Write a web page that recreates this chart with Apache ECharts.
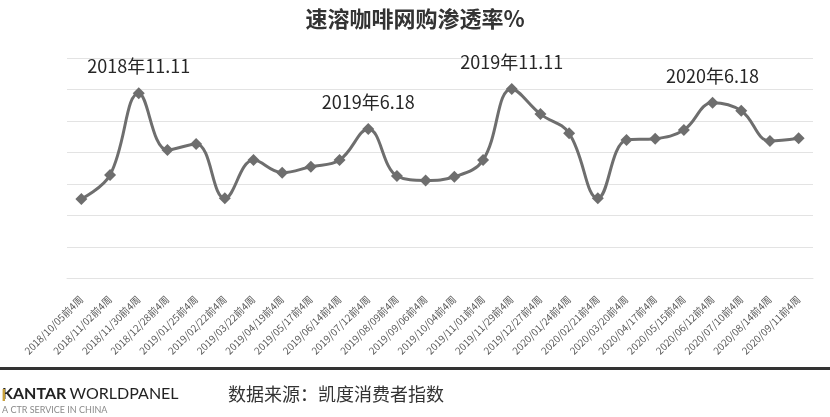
<!DOCTYPE html>
<html>
<head>
<meta charset="utf-8">
<script src="https://cdn.jsdelivr.net/npm/echarts@6/dist/echarts.min.js"></script>
<style>
  html, body { margin: 0; padding: 0; background: #fff; }
  #chart { width: 830px; height: 417px; }
</style>
</head>
<body>
<div id="chart"></div>
<script>
// 四周滚动周期
const periods = [
  '2018/10/05前4周', '2018/11/02前4周', '2018/11/30前4周', '2018/12/28前4周',
  '2019/01/25前4周', '2019/02/22前4周', '2019/03/22前4周', '2019/04/19前4周',
  '2019/05/17前4周', '2019/06/14前4周', '2019/07/12前4周', '2019/08/09前4周',
  '2019/09/06前4周', '2019/10/04前4周', '2019/11/01前4周', '2019/11/29前4周',
  '2019/12/27前4周', '2020/01/24前4周', '2020/02/21前4周', '2020/03/20前4周',
  '2020/04/17前4周', '2020/05/15前4周', '2020/06/12前4周', '2020/07/10前4周',
  '2020/08/14前4周', '2020/09/11前4周'
];

// 网购渗透率（%）
const penetration = [
  0.505, 0.657, 1.176, 0.816, 0.854, 0.509, 0.752, 0.672,
  0.710, 0.752, 0.949, 0.651, 0.623, 0.646, 0.752, 1.203,
  1.044, 0.922, 0.509, 0.879, 0.888, 0.943, 1.116, 1.065,
  0.873, 0.890
];

// 大促节点标注
const promoNotes = {
  2: '2018年11.11',
  10: '2019年6.18',
  15: '2019年11.11',
  22: '2020年6.18'
};

const CJK = '"Noto Sans CJK SC", "Noto Sans", sans-serif';
const LATIN = 'Lato, "Open Sans", sans-serif';
const lineColor = '#6e6e6e';
const gridColor = '#e3e3e3';

const chart = echarts.init(document.getElementById('chart'));

chart.setOption({
  backgroundColor: '#ffffff',
  animation: false,
  title: {
    text: '速溶咖啡网购渗透率%',
    left: 'center',
    top: 3,
    textStyle: { fontFamily: CJK, fontSize: 22, fontWeight: 'bold', color: '#333333' }
  },
  grid: { left: 67, right: 17, top: 58, bottom: 138.5 },
  xAxis: {
    type: 'category',
    data: periods,
    boundaryGap: true,
    axisLine: { lineStyle: { color: gridColor, width: 1 } },
    axisTick: { show: false },
    axisLabel: {
      rotate: 45,
      interval: 0,
      margin: 19,
      fontFamily: CJK,
      fontSize: 10,
      color: '#595959'
    }
  },
  yAxis: {
    type: 'value',
    min: 0,
    max: 1.4,
    interval: 0.2,
    axisLabel: { show: false },
    axisLine: { show: false },
    axisTick: { show: false },
    splitLine: { lineStyle: { color: gridColor, width: 1 } }
  },
  series: [{
    type: 'line',
    data: penetration.map((v, i) => ({
      value: v,
      label: promoNotes[i] ? {
        show: true,
        position: 'top',
        distance: 12,
        formatter: promoNotes[i],
        fontFamily: CJK,
        fontSize: 18,
        color: '#262626'
      } : { show: false }
    })),
    smooth: 0.4,
    symbol: 'diamond',
    symbolSize: 12,
    lineStyle: { color: lineColor, width: 3 },
    itemStyle: { color: lineColor }
  }],
  graphic: [
    // 页脚分隔线
    { type: 'rect', shape: { x: 0, y: 367, width: 830, height: 3 }, style: { fill: '#333333' } },
    {
      type: 'text', left: 2, top: 386,
      style: {
        text: '{b|KANTAR} {n|WORLDPANEL}',
        rich: {
          b: { fontFamily: LATIN, fontSize: 16, fontWeight: 'bold', fill: '#222222' },
          n: { fontFamily: LATIN, fontSize: 16, fill: '#222222' }
        }
      }
    },
    { type: 'rect', shape: { x: 2.6, y: 389, width: 2.4, height: 12 }, style: { fill: '#c9a13a' }, z: 10 },
    {
      type: 'text', left: 2, top: 406,
      style: { text: 'A CTR SERVICE IN CHINA', fontFamily: LATIN, fontSize: 9, fill: '#8a8a8a' }
    },
    {
      type: 'text', left: 228, top: 385,
      style: { text: '数据来源：凯度消费者指数', fontFamily: CJK, fontSize: 18, fill: '#333333' }
    }
  ]
});
</script>
</body>
</html>
